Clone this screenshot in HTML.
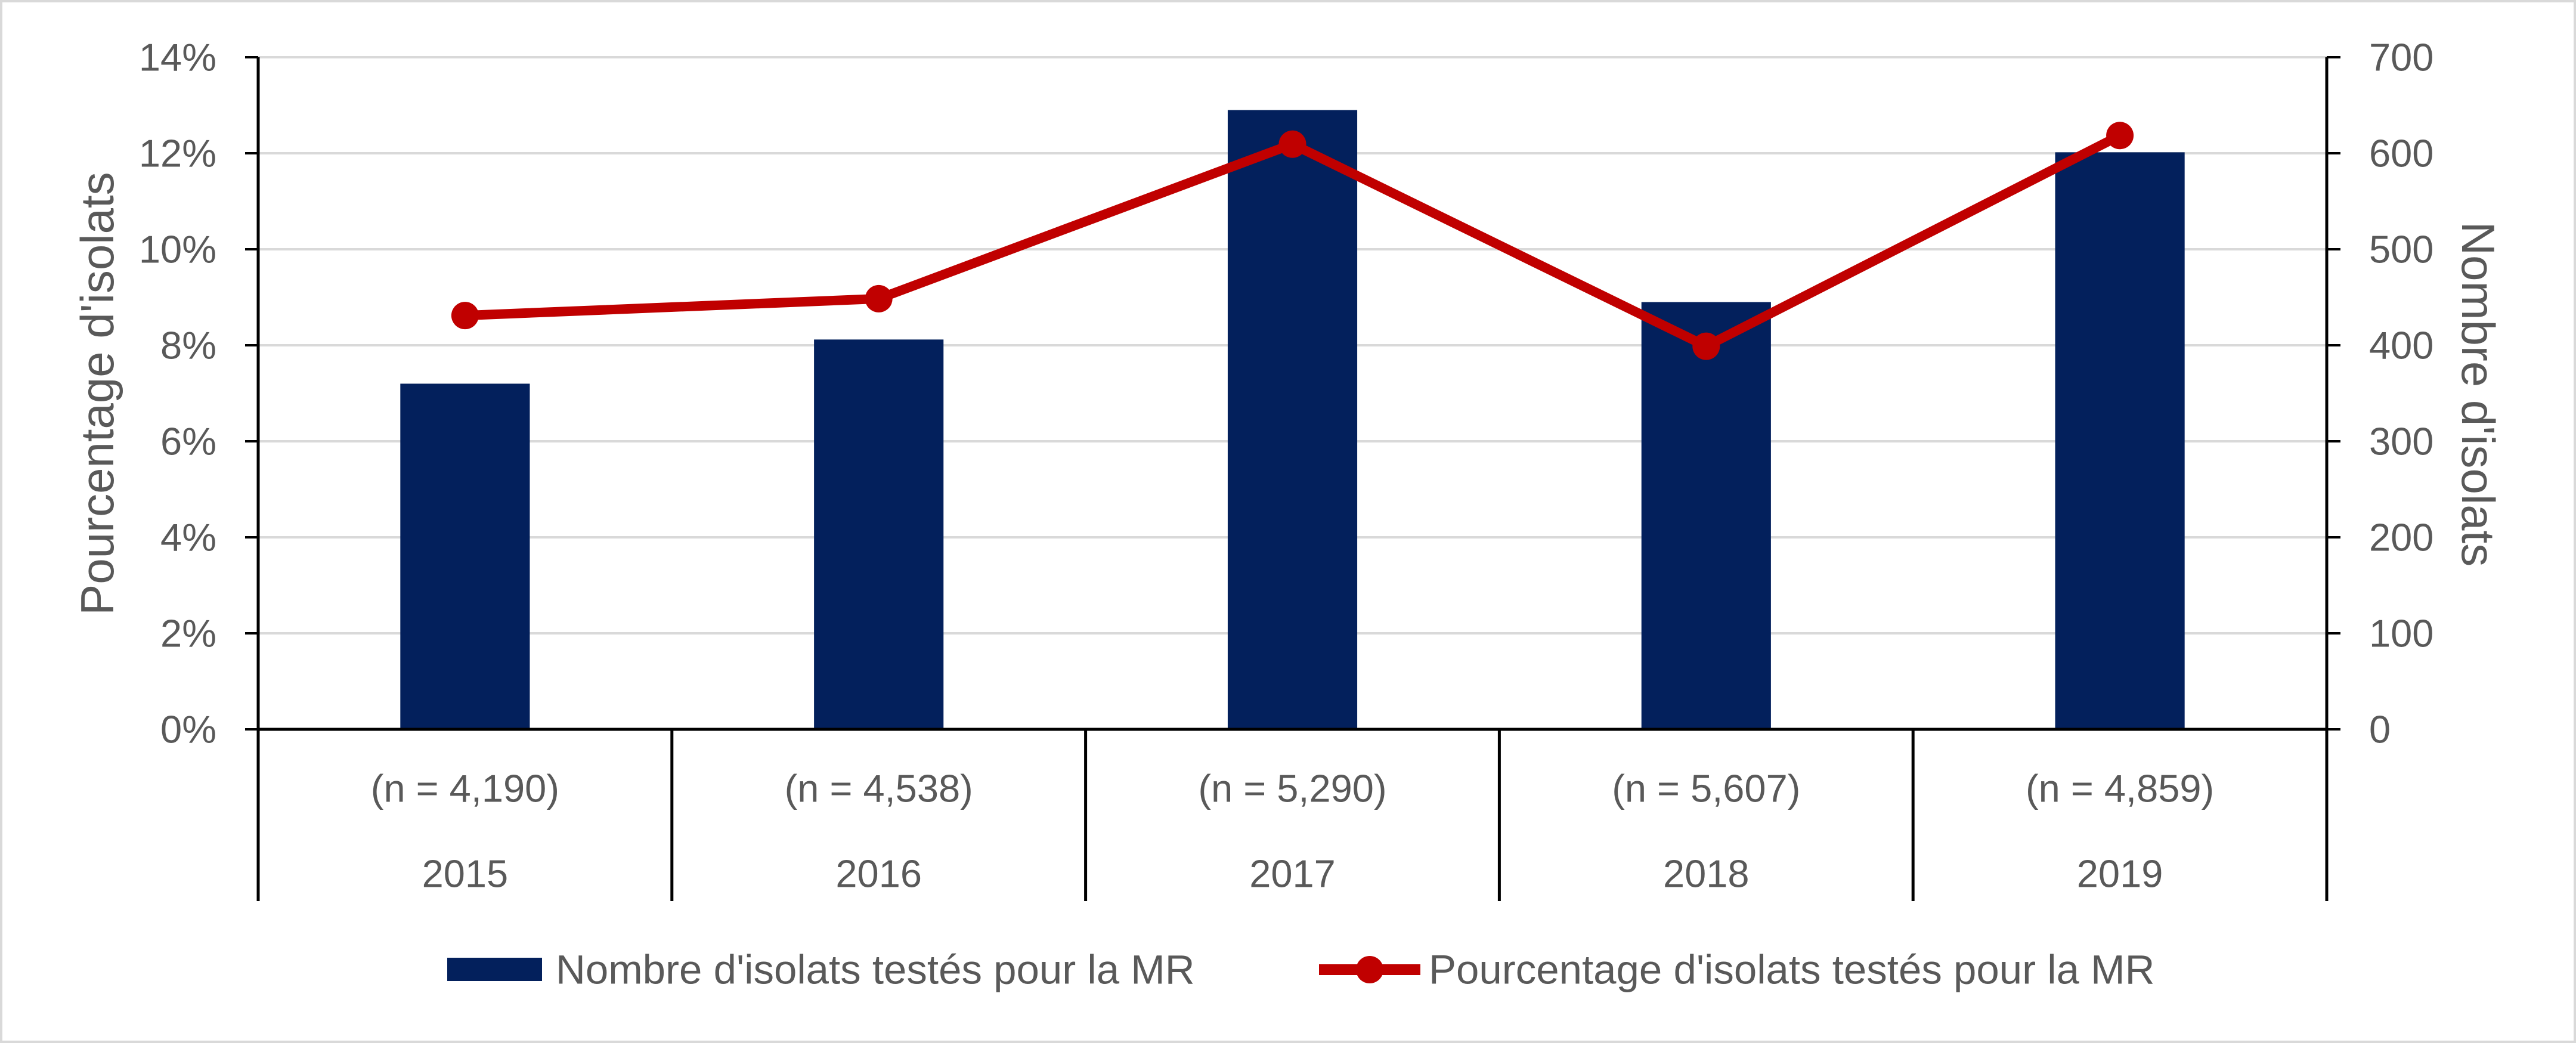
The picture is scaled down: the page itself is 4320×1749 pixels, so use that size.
<!DOCTYPE html>
<html><head><meta charset="utf-8"><style>
html,body{margin:0;padding:0;background:#fff;}
svg{display:block;}
text{font-family:"Liberation Sans",sans-serif;fill:#595959;font-size:65px;}
</style></head><body>
<svg id="chart" width="4320" height="1749" viewBox="0 0 4320 1749" xmlns="http://www.w3.org/2000/svg">
<rect x="2" y="2" width="4316" height="1745" fill="#fff" stroke="#d9d9d9" stroke-width="4"/>
<g id="grid"></g><g id="bars"></g><g id="axes"></g><g id="line"></g><g id="labels"></g>
<text transform="translate(163,660) rotate(-90)" text-anchor="middle" dominant-baseline="central" style="font-size:78px">Pourcentage d'isolats</text>
<text transform="translate(4156,661) rotate(90)" text-anchor="middle" dominant-baseline="central" style="font-size:78px">Nombre d'isolats</text>
<g>
<rect x="750" y="1606" width="159" height="39" fill="#03205c"/>
<text x="932" y="1626" dominant-baseline="central" style="font-size:69px">Nombre d'isolats testés pour la MR</text>
<line x1="2212" y1="1626" x2="2382" y2="1626" stroke="#c00000" stroke-width="18"/>
<circle cx="2297" cy="1626" r="23" fill="#c00000"/>
<text x="2396" y="1626" dominant-baseline="central" style="font-size:69px">Pourcentage d'isolats testés pour la MR</text>
</g>
</svg>
<script>
const years = ["2015","2016","2017","2018","2019"];
const nLabels = ["(n = 4,190)","(n = 4,538)","(n = 5,290)","(n = 5,607)","(n = 4,859)"];
const counts = [360, 406, 645, 445, 601];
const percents = [8.62, 8.97, 12.19, 7.98, 12.37];
const leftTicks = [0,2,4,6,8,10,12,14];
const rightTicks = [0,100,200,300,400,500,600,700];

const NS="http://www.w3.org/2000/svg";
const X0=433, X1=3902, Y0=1223, YT=96, YB=1511;
const catW=(X1-X0)/years.length;
const yL=v=>Y0-(v/14)*(Y0-YT);
const yR=v=>Y0-(v/700)*(Y0-YT);
const xC=i=>X0+catW*(i+0.5);
function mk(tag,attrs,parent,txt){const e=document.createElementNS(NS,tag);for(const k in attrs)e.setAttribute(k,attrs[k]);if(txt!==undefined)e.textContent=txt;document.getElementById(parent).appendChild(e);return e;}

leftTicks.forEach((t,i)=>{
  if(t>0){const g=mk('line',{x1:X0,x2:X1,y1:yL(t),y2:yL(t),stroke:'#d9d9d9','stroke-width':4},'grid');
  
  }
  const tk=mk('line',{x1:411,x2:X0,y1:yL(t),y2:yL(t),stroke:'#000','stroke-width':4},'axes');
  
  
  const l=mk('text',{x:363,y:yL(t),'text-anchor':'end','dominant-baseline':'central'},'labels',t+'%');
  
  
});
rightTicks.forEach(t=>{
  const tk=mk('line',{x1:X1,x2:3925,y1:yR(t),y2:yR(t),stroke:'#000','stroke-width':4},'axes');
  
  
  const l=mk('text',{x:3973,y:yR(t),'dominant-baseline':'central'},'labels',String(t));
  
  
});
const bw=catW*0.313;
counts.forEach((c,i)=>{
  const b=mk('rect',{x:xC(i)-bw/2,y:yR(c),width:bw,height:Y0-yR(c),fill:'#03205c'},'bars');
  
  
  const n=mk('text',{x:xC(i),y:1322,'text-anchor':'middle','dominant-baseline':'central'},'labels',nLabels[i]);
  
  
  const yl=mk('text',{x:xC(i),y:1465,'text-anchor':'middle','dominant-baseline':'central'},'labels',years[i]);
  
  
});
for(let k=0;k<=years.length;k++){
  const s=mk('line',{x1:X0+catW*k,x2:X0+catW*k,y1:Y0,y2:YB,stroke:'#000','stroke-width':5},'axes');
  
  
}
const la=mk('line',{x1:X0,x2:X0,y1:YT,y2:Y0,stroke:'#000','stroke-width':5},'axes');


const ra=mk('line',{x1:X1,x2:X1,y1:YT,y2:Y0,stroke:'#000','stroke-width':5},'axes');


const xa=mk('line',{x1:X0,x2:X1,y1:Y0,y2:Y0,stroke:'#000','stroke-width':5},'axes');


const pl=mk('polyline',{points:percents.map((p,i)=>xC(i)+','+yL(p)).join(' '),fill:'none',stroke:'#c00000','stroke-width':16,'stroke-linejoin':'round'},'line');


percents.forEach((p,i)=>{
  const c=mk('circle',{cx:xC(i),cy:yL(p),r:23,fill:'#c00000'},'line');
  
  
});
</script>
</body></html>
